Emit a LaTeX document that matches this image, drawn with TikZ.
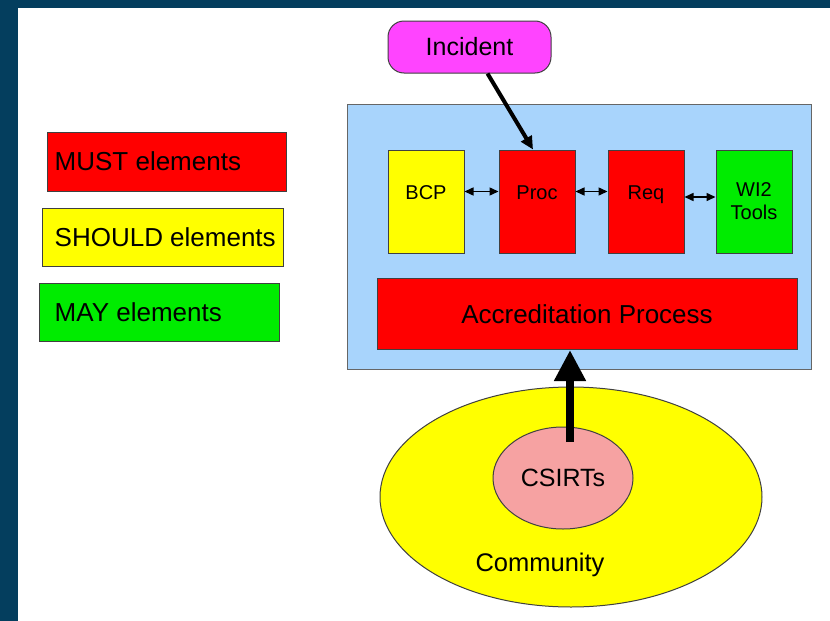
\documentclass[tikz,border=0pt]{standalone}
\usepackage{fontspec}
\setmainfont{Liberation Sans}
\usepackage{xcolor}
\usepackage{tikz}
\usetikzlibrary{arrows.meta,positioning,shapes.geometric}
\definecolor{frameblue}{RGB}{4,62,94}
\definecolor{panelblue}{RGB}{168,212,252}
\definecolor{mustred}{RGB}{255,0,0}
\definecolor{shouldyellow}{RGB}{255,255,0}
\definecolor{maygreen}{RGB}{0,236,0}
\definecolor{incpink}{RGB}{255,68,255}
\definecolor{csirtpink}{RGB}{246,162,162}
\definecolor{edge}{RGB}{64,64,64}
\tikzset{
  box/.style={draw=edge, line width=1pt, inner sep=0pt, align=center},
  must/.style={box, fill=mustred},
  should/.style={box, fill=shouldyellow},
  may/.style={box, fill=maygreen},
  key/.style={minimum width=240pt, minimum height=58pt},
  keytext/.style={inner sep=0pt, font=\fontsize{26}{30}\selectfont},
  elem/.style={minimum width=76pt, minimum height=103pt, font=\fontsize{20}{23}\selectfont},
  high/.style={text depth=17pt},
  blob/.style={box, ellipse},
  link/.style={{Triangle[length=9pt,width=8pt]}-{Triangle[length=9pt,width=8pt]}, line width=1.5pt},
  arrow/.style={-{Triangle[length=13pt,width=12pt]}, line width=4pt},
  bigarrow/.style={-{Triangle[length=31pt,width=30pt]}, line width=8pt}
}
\begin{document}
\begin{tikzpicture}[x=1pt, y=-1pt]
    \useasboundingbox (0,0) rectangle (830,621);
    \fill[frameblue] (0,0) rectangle (830,621);
    \fill[white] (18,8) rectangle (830,621);

    % legend
    \node[must, key, minimum width=239pt, minimum height=59pt] (mustkey) at (166.5,161.5) {};
    \node[should, key, minimum width=241pt] (shouldkey) at (162.5,237) {};
    \node[may, key] (maykey) at (159,312) {};
    \node[keytext, right=8pt of mustkey.west] (musttext) {MUST elements};
    \node[keytext, right=13pt of shouldkey.west] (shouldtext) {SHOULD elements};
    \node[keytext, right=16pt of maykey.west] (maytext) {MAY elements};

    % accreditation panel
    \node[box, draw=edge!80, fill=panelblue, minimum width=464pt, minimum height=265pt] (panel) at (579,236.5) {};
    \node[should, elem, high] (bcp) at (426,201.5) {BCP};
    \node[must, elem, high, right=34pt of bcp] (proc) {Proc};
    \node[must, elem, high, right=32pt of proc] (req) {Req};
    \node[may, elem, right=31pt of req] (tools) {WI2\\Tools};
    \node[must, minimum width=420pt, minimum height=71pt, font=\fontsize{26}{30}\selectfont] (accr) at (587,314) {Accreditation Process};

    \node[box, fill=incpink, rounded corners=16pt, minimum width=163pt, minimum height=52pt,
          font=\fontsize{25}{30}\selectfont] (incident) at (469.5,47) {Incident};

    % community
    \node[blob, fill=shouldyellow, minimum width=382pt, minimum height=220pt] (community) at (571,497) {};
    \node[blob, fill=csirtpink, minimum width=140pt, minimum height=102pt, font=\fontsize{25}{30}\selectfont] (csirts) at (563,478) {CSIRTs};
    \node[keytext, font=\fontsize{25.5}{30}\selectfont, above=31pt of community.south, xshift=-31pt] (commtext) {Community};

    \draw[link] ([yshift=10pt]bcp.east) -- ([yshift=10pt]proc.west);
    \draw[link] ([yshift=10pt]proc.east) -- ([yshift=10pt]req.west);
    \draw[link] ([yshift=4.5pt]req.east) -- ([yshift=4.5pt]tools.west);

    \draw[arrow] ([xshift=18pt]incident.south) -- ([xshift=-4pt]proc.north);

    \coordinate (up) at (570,442);
    \draw[bigarrow] (up) -- (up |- accr.south);
  \end{tikzpicture}
\end{document}
